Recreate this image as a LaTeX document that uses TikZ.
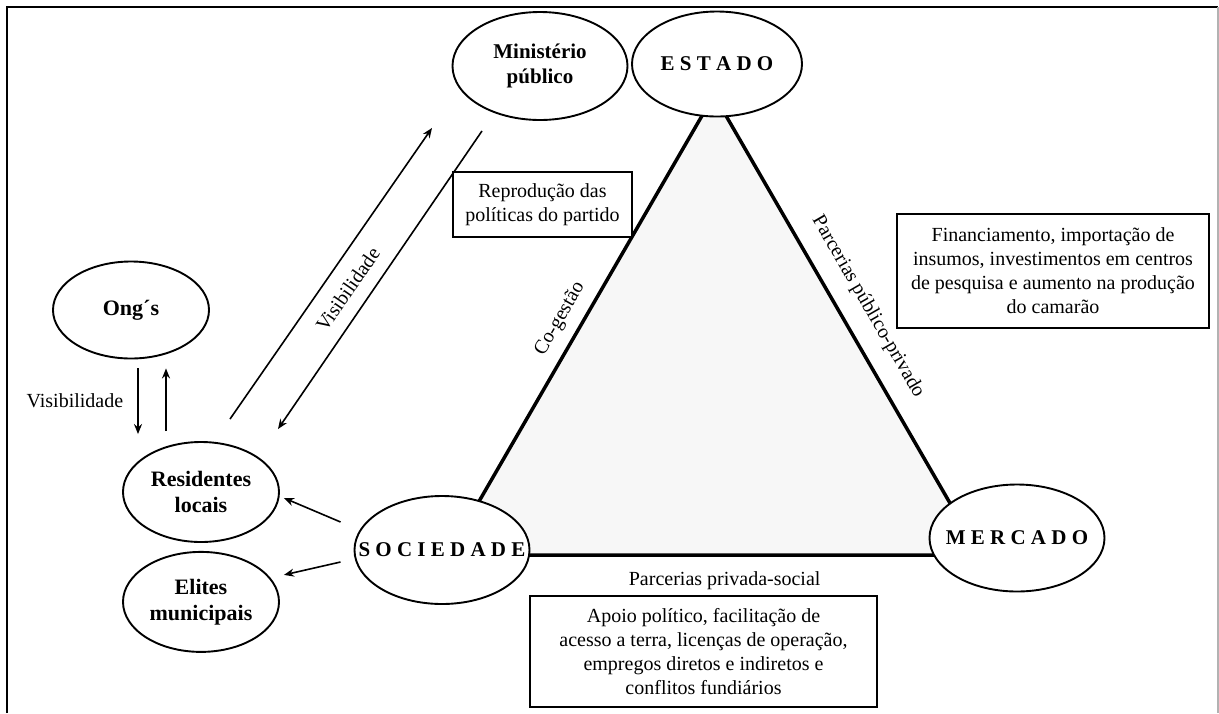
\documentclass[tikz,border=0pt]{standalone}
\usepackage{fontspec}
\setmainfont{Liberation Serif}
\usetikzlibrary{shapes,arrows,arrows.meta,calc,positioning,backgrounds}
\newcommand{\spaced}[1]{\makebox[0pt]{#1}}

\begin{document}
\begin{tikzpicture}[
  x=1pt, y=-1pt,
  actor/.style={ellipse, draw, line width=1.9pt, fill=white, inner sep=0pt, font=\fontsize{21}{25}\selectfont\bfseries, align=center},
  pole/.style={actor, minimum width=175pt, minimum height=108pt},
  small/.style={actor, minimum width=156pt, minimum height=100pt, font=\fontsize{22}{26}\selectfont\bfseries},
  infobox/.style={rectangle, draw, line width=1.2pt, fill=white, font=\fontsize{20}{24}\selectfont, align=center, inner sep=0pt},
  lbl/.style={font=\fontsize{20}{24}\selectfont, inner sep=0pt},
  arr/.style={-{Stealth[length=10pt, width=8pt]}, line width=1.6pt},
  side/.style={line width=3.5pt, fill=black!3}
]
\useasboundingbox (0,0) rectangle (1219,713);

% Frame
\draw[line width=1.5pt] (7,713) -- (7,7) -- (1218,7);
\draw[line width=1.5pt, gray!60] (1218,7) -- (1218,713);

% Poles of the triangle
\node[pole, minimum width=170pt, minimum height=105pt] (estado) at (717,64) {\spaced{E S T A D O}};
\node[pole] (soc) at (442,550) {\spaced{S O C I E D A D E}};
\node[pole, minimum height=107pt] (merc) at (1017,538) {\spaced{M E R C A D O}};

% Other actors
\node[pole] (min) at (540,66) {Ministério\\público};
\node[small, minimum height=97pt] (ongs) at (131,310) {Ong´s};
\node[small] (res) at (201,492) {Residentes\\locais};
\node[small, below=8pt of res] (eli) {Elites\\municipais};

% Text boxes
\node[infobox, minimum width=179pt, minimum height=65pt] (repro) at (542.5,204.5) {Reprodução das\\políticas do partido};
\node[infobox, minimum width=312pt, minimum height=114pt] (finan) at (1053,271) {Financiamento, importação de\\insumos, investimentos em centros\\de pesquisa e aumento na produção\\do camarão};
\node[infobox, minimum width=347pt, minimum height=111pt] (apoio) at (703.5,651.5) {Apoio político, facilitação de\\acesso a terra, licenças de operação,\\empregos diretos e indiretos e\\conflitos fundiários};

% Triangle
\coordinate (apex) at ($(estado)+(-3,31)$);
\coordinate (bl) at ($(soc)+(6,5)$);
\coordinate (br) at ($(merc)+(-37,17)$);
\begin{pgfonlayer}{background}
\draw[side] (apex) -- (bl) -- (br) -- cycle;
\end{pgfonlayer}
\path (bl) -- (apex) node[lbl, pos=0.49, sloped, above=12pt] {Co-gestão};
\path (apex) -- (br) node[lbl, pos=0.49, sloped, above=18pt] {Parcerias público-privado};
\path (bl) -- (br) node[lbl, pos=0.52, below=16pt] {Parcerias privada-social};

% Ong's <-> Residentes
\draw[arr, shorten <=9pt, shorten >=7pt] ([xshift=7pt]ongs.south) -- ([xshift=7pt]ongs.south |- res.north)
  node[lbl, midway, left=14pt] {Visibilidade};
\draw[arr, shorten <=10pt, shorten >=9pt] ([xshift=35pt]ongs.south |- res.north) -- ([xshift=35pt]ongs.south);

% Residentes <-> Ministerio
\coordinate (visA) at ($(res.north)+(29,-22)$);
\coordinate (visB) at ($(min.south)+(-108,7)$);
\coordinate (visC) at ($(min.south)+(-58,10)$);
\coordinate (visD) at ($(res.north)+(77,-12)$);
\draw[arr] (visA) -- (visB) node[lbl, pos=0.49, sloped, below=15pt] {Visibilidade};
\draw[arr] (visC) -- (visD);

% Sociedade -> local actors
\draw[arr] ([shift={(-13,-28)}]soc.west) -- ([shift={(4,6)}]res.east);
\draw[arr] ([shift={(-13,12)}]soc.west) -- ([shift={(4,-27)}]eli.east);

\end{tikzpicture}
\end{document}
